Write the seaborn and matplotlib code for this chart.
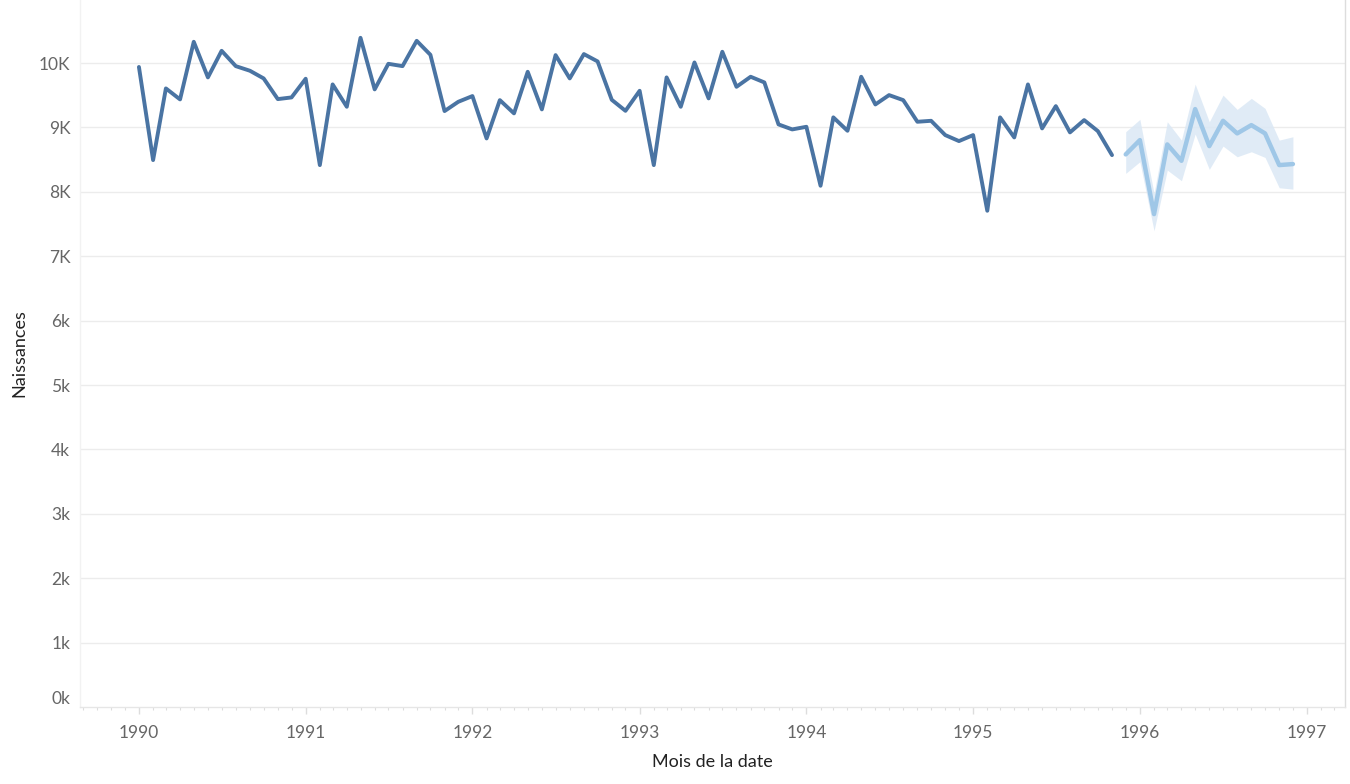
import matplotlib
matplotlib.use("Agg")
import matplotlib.pyplot as plt
import matplotlib.dates as mdates
from matplotlib.ticker import FixedLocator, FixedFormatter
import seaborn as sns
import pandas as pd
from datetime import datetime

# ---------------- data ----------------
actual_start = "1990-01-01"
actual_births = [
    9940, 8494, 9607, 9436, 10331, 9778, 10191, 9953, 9881, 9762, 9441, 9467,
    9757, 8416, 9669, 9322, 10393, 9592, 9989, 9953, 10346, 10129, 9255, 9399,
    9488, 8830, 9425, 9219, 9865, 9281, 10124, 9762, 10140, 10026, 9430, 9259,
    9570, 8416, 9778, 9322, 10010, 9452, 10176, 9632, 9788, 9700, 9048, 8970,
    9011, 8095, 9157, 8949, 9788, 9358, 9503, 9425, 9089, 9104, 8882, 8789,
    8882, 7707, 9157, 8846, 9669, 8986, 9332, 8924, 9115, 8944, 8571,
]
forecast_start = "1995-12-01"
forecast_births = [8582, 8804, 7655, 8737, 8483, 9286, 8711, 9104, 8908, 9037, 8908, 8416, 8432]
forecast_upper = [8934, 9126, 7977, 9089, 8804, 9674, 9089, 9503, 9281, 9452, 9297, 8804, 8856]
forecast_lower = [8287, 8468, 7396, 8338, 8173, 8898, 8349, 8711, 8545, 8623, 8535, 8064, 8043]

y_ticks = [0, 1000, 2000, 3000, 4000, 5000, 6000, 7000, 8000, 9000, 10000]
y_tick_labels = ["0k", "1k", "2k", "3k", "4k", "5k", "6k", "7K", "8K", "9K", "10K"]
x_tick_years = [1990, 1991, 1992, 1993, 1994, 1995, 1996, 1997]

df_act = pd.DataFrame({
    "date": pd.date_range(actual_start, periods=len(actual_births), freq="MS"),
    "Naissances": actual_births,
})
df_fc = pd.DataFrame({
    "date": pd.date_range(forecast_start, periods=len(forecast_births), freq="MS"),
    "Naissances": forecast_births,
    "upper": forecast_upper,
    "lower": forecast_lower,
})

# ---------------- style ----------------
sns.set_theme(style="white")
plt.rcParams["font.family"] = ["Lato", "DejaVu Sans"]

fig = plt.figure(figsize=(13.5, 7.84), dpi=100)
ax = fig.add_axes([80 / 1350, 77 / 784, 1265 / 1350, 707 / 784])

grid_col = "#ececec"
ax.set_axisbelow(True)
for yv in y_ticks[1:]:
    ax.axhline(yv, color=grid_col, lw=1.0, zorder=0)

ax.fill_between(df_fc["date"], df_fc["lower"], df_fc["upper"],
                color="#dbe8f5", alpha=0.85, lw=0, zorder=1)
sns.lineplot(data=df_act, x="date", y="Naissances", ax=ax, color="#4a74a3",
             lw=2.8, solid_joinstyle="round", solid_capstyle="round", zorder=3)
sns.lineplot(data=df_fc, x="date", y="Naissances", ax=ax, color="#9fc7e7",
             lw=3.2, solid_joinstyle="round", solid_capstyle="round", zorder=3)

ax.set_xlim(datetime(1989, 8, 25), datetime(1997, 3, 25))
ax.set_ylim(0, 10980)

# y axis
ax.yaxis.set_major_locator(FixedLocator(y_ticks))
ax.yaxis.set_major_formatter(FixedFormatter(y_tick_labels))
ax.tick_params(axis="y", which="major", length=5, width=1, color=grid_col,
               pad=2, labelsize=12.5, labelcolor="#666666")
for lab in ax.get_yticklabels():
    if lab.get_text() == "0k":
        lab.set_va("bottom")

# x axis
ax.xaxis.set_major_locator(FixedLocator([mdates.date2num(datetime(y, 1, 1)) for y in x_tick_years]))
ax.xaxis.set_major_formatter(FixedFormatter([str(y) for y in x_tick_years]))
ax.xaxis.set_minor_locator(mdates.MonthLocator())
ax.tick_params(axis="x", which="major", length=5, width=1, color="#dddddd",
               pad=8, labelsize=12.5, labelcolor="#666666", bottom=True)
ax.tick_params(axis="x", which="minor", length=2.5, width=0.8, color="#dddddd", bottom=True)

ax.spines["top"].set_visible(False)
ax.spines["left"].set_color("#f2f2f2")
ax.spines["bottom"].set_color("#e6e6e6")
ax.spines["right"].set_color("#dddddd")
for s in ax.spines.values():
    s.set_linewidth(1.0)

ax.set_ylabel("Naissances", fontsize=13, color="#222222", labelpad=8)
ax.set_xlabel("Mois de la date", fontsize=13, color="#222222", labelpad=9)

fig.savefig("out.png", dpi=100, facecolor="white")
